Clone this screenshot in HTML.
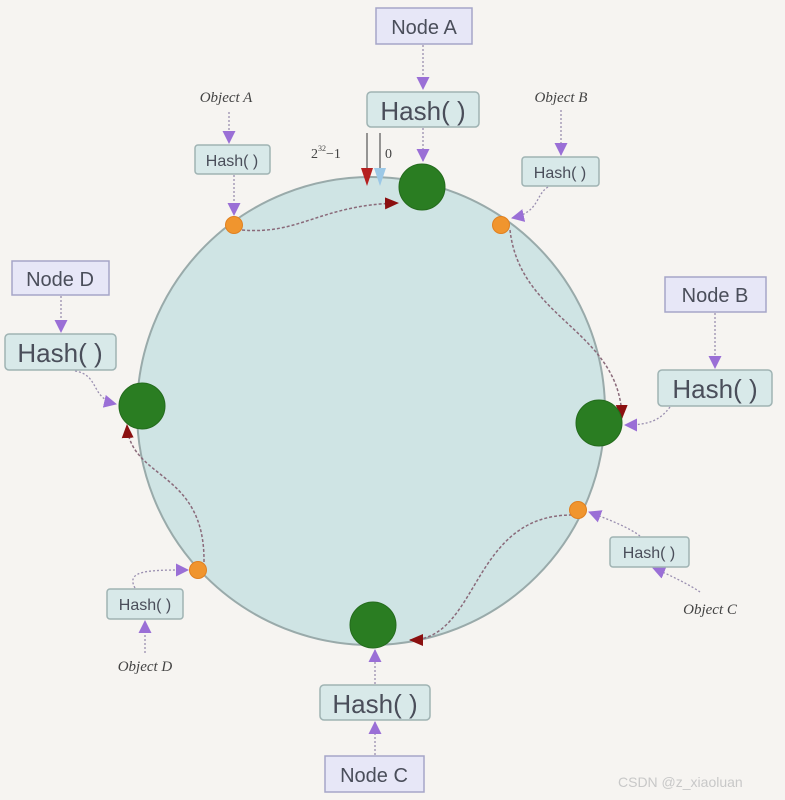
<!DOCTYPE html>
<html><head><style>body{margin:0;background:#f6f4f1}svg{display:block}</style></head><body>
<svg width="785" height="800" viewBox="0 0 785 800" xmlns="http://www.w3.org/2000/svg" font-family="Liberation Sans, sans-serif">
<defs>
<marker id="pa" markerWidth="13" markerHeight="13" refX="12" refY="6.5" orient="auto" markerUnits="userSpaceOnUse" viewBox="0 0 13 13"><path d="M0,0 L13,6.5 L0,13z" fill="#9a6fd6"/></marker>
<marker id="ra" markerWidth="14" markerHeight="12" refX="13" refY="6" orient="auto" markerUnits="userSpaceOnUse" viewBox="0 0 14 12"><path d="M0,0 L14,6 L0,12z" fill="#8b1010"/></marker>
</defs>
<rect width="785" height="800" fill="#f6f4f1"/>
<circle cx="371" cy="411" r="234" fill="#cfe4e4" stroke="#9aa" stroke-width="2"/>
<g fill="none" stroke="#8a6a7a" stroke-width="1.5" stroke-dasharray="3,2">
<path d="M242,230 C300,235 320,205 398,203" marker-end="url(#ra)"/>
<path d="M510,230 C520,320 620,330 622,418" marker-end="url(#ra)"/>
<path d="M572,515 C470,515 480,640 410,640" marker-end="url(#ra)"/>
<path d="M204,562 C205,470 130,480 127,425" marker-end="url(#ra)"/>
</g>
<g fill="none" stroke="#9a8fb0" stroke-width="1.3" stroke-dasharray="2,2">
<path d="M423,45 V89" marker-end="url(#pa)"/>
<path d="M423,128 V161" marker-end="url(#pa)"/>
<path d="M229,112 V143" marker-end="url(#pa)"/>
<path d="M234,175 V215" marker-end="url(#pa)"/>
<path d="M561,110 V155" marker-end="url(#pa)"/>
<path d="M548,187 C535,195 540,212 512,218" marker-end="url(#pa)"/>
<path d="M61,296 V332" marker-end="url(#pa)"/>
<path d="M75,371 C100,375 90,398 116,404" marker-end="url(#pa)"/>
<path d="M715,313 V368" marker-end="url(#pa)"/>
<path d="M670,407 C660,420 650,425 625,425" marker-end="url(#pa)"/>
<path d="M640,536 C630,528 610,520 589,512" marker-end="url(#pa)"/>
<path d="M700,592 C690,585 670,575 653,568" marker-end="url(#pa)"/>
<path d="M375,755 V722" marker-end="url(#pa)"/>
<path d="M375,684 V650" marker-end="url(#pa)"/>
<path d="M145,653 V621" marker-end="url(#pa)"/>
<path d="M135,588 C125,570 150,570 188,570" marker-end="url(#pa)"/>
</g>
<line x1="367" y1="133" x2="367" y2="172" stroke="#555" stroke-width="1.2"/>
<path d="M361,168 L373,168 L367,186z" fill="#b52020"/>
<line x1="380" y1="133" x2="380" y2="172" stroke="#555" stroke-width="1.2"/>
<path d="M374,168 L386,168 L380,186z" fill="#9cc8e6"/>
<text x="311" y="158" font-family="Liberation Serif, serif" font-size="14" fill="#444">2<tspan font-size="8" dy="-7">32</tspan><tspan dy="7">−1</tspan></text>
<text x="385" y="158" font-family="Liberation Serif, serif" font-size="14" fill="#444">0</text>
<g fill="#2a7d22" stroke="#246b1d" stroke-width="1">
<circle cx="422" cy="187" r="23"/><circle cx="142" cy="406" r="23"/><circle cx="599" cy="423" r="23"/><circle cx="373" cy="625" r="23"/>
</g>
<g fill="#f0952e" stroke="#e08020">
<circle cx="234" cy="225" r="8.5"/><circle cx="501" cy="225" r="8.5"/><circle cx="578" cy="510" r="8.5"/><circle cx="198" cy="570" r="8.5"/>
</g>
<g fill="#e7e7f7" stroke="#a5a5c8" stroke-width="1.5">
<rect x="376" y="8" width="96" height="36"/><rect x="12" y="261" width="97" height="34"/><rect x="665" y="277" width="101" height="35"/><rect x="325" y="756" width="99" height="36"/>
</g>
<g fill="#d8e9e9" stroke="#9fb3b3" stroke-width="1.5">
<rect x="367" y="92" width="112" height="35" rx="4"/><rect x="5" y="334" width="111" height="36" rx="4"/><rect x="658" y="370" width="114" height="36" rx="4"/><rect x="320" y="685" width="110" height="35" rx="4"/>
<rect x="195" y="145" width="75" height="29" rx="3"/><rect x="522" y="157" width="77" height="29" rx="3"/><rect x="610" y="537" width="79" height="30" rx="3"/><rect x="107" y="589" width="76" height="30" rx="3"/>
</g>
<g fill="#4a4e5a" text-anchor="middle">
<text x="424" y="34" font-size="20">Node A</text>
<text x="60" y="286" font-size="20">Node D</text>
<text x="715" y="302" font-size="20">Node B</text>
<text x="374" y="782" font-size="20">Node C</text>
<text x="423" y="120" font-size="26">Hash( )</text>
<text x="60" y="362" font-size="26">Hash( )</text>
<text x="715" y="398" font-size="26">Hash( )</text>
<text x="375" y="713" font-size="26">Hash( )</text>
<text x="232" y="166" font-size="16">Hash( )</text>
<text x="560" y="178" font-size="16">Hash( )</text>
<text x="649" y="558" font-size="16">Hash( )</text>
<text x="145" y="610" font-size="16">Hash( )</text>
</g>
<g fill="#444" font-family="Liberation Serif, serif" font-style="italic" font-size="15" text-anchor="middle">
<text x="226" y="102">Object A</text><text x="561" y="102">Object B</text><text x="710" y="614">Object C</text><text x="145" y="671">Object D</text>
</g>
<text x="618" y="787" font-size="14" fill="#c8c8c8">CSDN @z_xiaoluan</text>
</svg>
</body></html>
